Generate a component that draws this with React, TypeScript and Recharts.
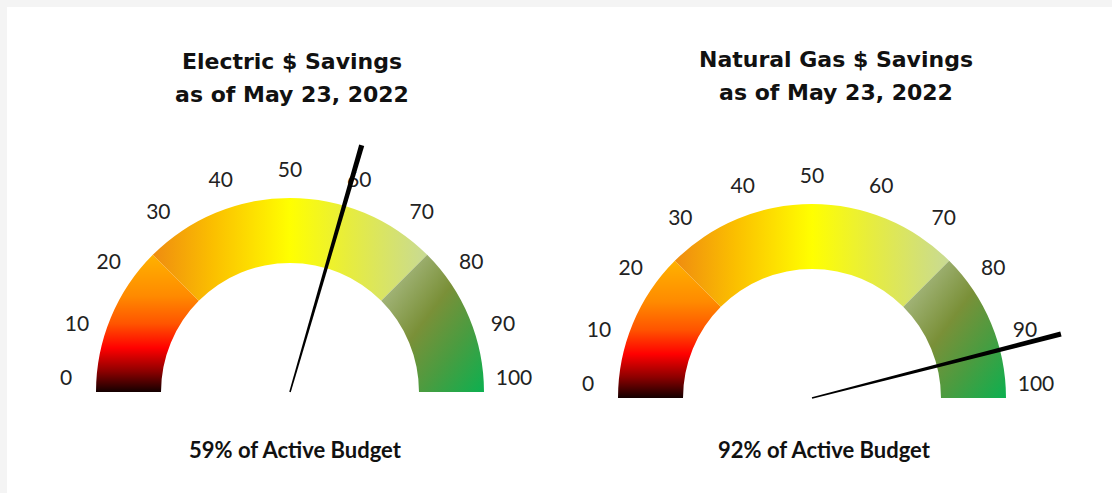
import { PieChart, Pie, Cell } from "recharts";

// gauge scale + readings
const tickLabels = [0, 10, 20, 30, 40, 50, 60, 70, 80, 90, 100];
const bandNames = ["low", "mid", "high"];
const bandSizes = [25, 50, 25];
const gaugeIds = ["electric", "gas"];
const gaugeTitles = ["Electric $ Savings", "Natural Gas $ Savings"];
const gaugeSubtitles = ["as of May 23, 2022", "as of May 23, 2022"];
const gaugeValues = [59, 92];

const RAD = Math.PI / 180;
const LABEL_FONT = "Lato, 'Open Sans', sans-serif";

const bandData = bandNames.map((name, i) => ({ name, value: bandSizes[i] }));
const tickData = tickLabels.map((t) => ({ name: String(t), value: 1 }));

function renderTick(props: any) {
  const { cx, cy, midAngle, outerRadius, index } = props;
  const a = midAngle * RAD;
  const x = cx + outerRadius * Math.cos(a);
  let y = cy - outerRadius * Math.sin(a);
  // end labels sit above the baseline
  if (Math.abs(Math.sin(a)) < 0.05) y -= 16;
  return (
    <text
      key={`tick-${index}`}
      x={x}
      y={y}
      textAnchor="middle"
      dominantBaseline="central"
      fontFamily={LABEL_FONT}
      fontSize={21}
      fill="#222"
    >
      {tickLabels[index]}
    </text>
  );
}

function renderNeedle(props: any) {
  const { cx, cy, endAngle, outerRadius, index } = props;
  if (index !== 0) return <g key={`n-${index}`} />;
  const a = endAngle * RAD;
  const ux = Math.cos(a);
  const uy = -Math.sin(a);
  const px = -uy;
  const py = ux;
  const tx = cx + outerRadius * ux;
  const ty = cy + outerRadius * uy;
  const pts = [
    [cx + px * 0.8, cy + py * 0.8],
    [tx + px * 2.6, ty + py * 2.6],
    [tx - px * 2.6, ty - py * 2.6],
    [cx - px * 0.8, cy - py * 0.8],
  ]
    .map((p) => p.join(","))
    .join(" ");
  return <polygon key="needle" points={pts} fill="#000" />;
}

interface GaugeProps {
  idx: number;
  left: number;
  cx: number;
  cy: number;
}

function Gauge({ idx, left, cx, cy }: GaugeProps) {
  const id = gaugeIds[idx];
  const value = gaugeValues[idx];
  const needleData = [
    { name: "value", value },
    { name: "rest", value: 100 - value },
  ];
  return (
    <div style={{ position: "absolute", left, top: 0 }}>
      <PieChart width={556} height={493} margin={{ top: 0, right: 0, bottom: 0, left: 0 }}>
        <defs>
          <linearGradient id={`${id}-low`} x1="0" y1="0" x2="0" y2="1">
            <stop offset="0" stopColor="#ffb200" />
            <stop offset="0.3" stopColor="#ff8a00" />
            <stop offset="0.5" stopColor="#ff5500" />
            <stop offset="0.68" stopColor="#ff0000" />
            <stop offset="0.85" stopColor="#8c0000" />
            <stop offset="1" stopColor="#140000" />
          </linearGradient>
          <linearGradient id={`${id}-mid`} x1="0" y1="0" x2="1" y2="0">
            <stop offset="0" stopColor="#ef8c10" />
            <stop offset="0.22" stopColor="#fbbf00" />
            <stop offset="0.5" stopColor="#ffff00" />
            <stop offset="0.72" stopColor="#e6ec40" />
            <stop offset="1" stopColor="#c8da94" />
          </linearGradient>
          <linearGradient id={`${id}-high`} x1="0" y1="0" x2="1" y2="1">
            <stop offset="0" stopColor="#b8c89c" />
            <stop offset="0.45" stopColor="#7a9038" />
            <stop offset="0.7" stopColor="#4a9c40" />
            <stop offset="1" stopColor="#0cb050" />
          </linearGradient>
        </defs>
        <Pie
          data={bandData}
          dataKey="value"
          cx={cx}
          cy={cy}
          startAngle={180}
          endAngle={0}
          innerRadius={129}
          outerRadius={194}
          stroke="none"
          isAnimationActive={false}
        >
          {bandNames.map((b) => (
            <Cell key={b} fill={`url(#${id}-${b})`} />
          ))}
        </Pie>
        <Pie
          data={tickData}
          dataKey="value"
          cx={cx}
          cy={cy}
          startAngle={189}
          endAngle={-9}
          innerRadius={223}
          outerRadius={224}
          fill="transparent"
          stroke="none"
          label={renderTick}
          labelLine={false}
          isAnimationActive={false}
        />
        <Pie
          data={needleData}
          dataKey="value"
          cx={cx}
          cy={cy}
          startAngle={180}
          endAngle={0}
          innerRadius={256}
          outerRadius={257}
          fill="transparent"
          stroke="none"
          label={renderNeedle}
          labelLine={false}
          isAnimationActive={false}
        />
      </PieChart>
    </div>
  );
}

const titleStyle = {
  position: "absolute" as const,
  width: 400,
  textAlign: "center" as const,
  fontFamily: "'DejaVu Sans', sans-serif",
  fontWeight: 700,
  fontSize: 22,
  lineHeight: "33px",
  color: "#111",
};

const captionStyle = {
  position: "absolute" as const,
  width: 300,
  textAlign: "center" as const,
  fontFamily: LABEL_FONT,
  fontWeight: 700,
  fontSize: 22,
  lineHeight: "26px",
  color: "#111",
};

export default function App() {
  return (
    <div style={{ position: "fixed", left: 0, top: 0, width: 1112, height: 493, background: "#f4f4f4" }}>
      <div style={{ position: "absolute", left: 7, top: 7, width: 1105, height: 486, background: "#fff" }} />
      <Gauge idx={0} left={0} cx={290} cy={392} />
      <Gauge idx={1} left={556} cx={256} cy={398} />
      <div style={{ ...titleStyle, left: 92, top: 45 }}>
        {gaugeTitles[0]}
        <br />
        {gaugeSubtitles[0]}
      </div>
      <div style={{ ...titleStyle, left: 636, top: 43 }}>
        {gaugeTitles[1]}
        <br />
        {gaugeSubtitles[1]}
      </div>
      <div style={{ ...captionStyle, left: 145, top: 437 }}>{gaugeValues[0]}% of Active Budget</div>
      <div style={{ ...captionStyle, left: 674, top: 437 }}>{gaugeValues[1]}% of Active Budget</div>
    </div>
  );
}
